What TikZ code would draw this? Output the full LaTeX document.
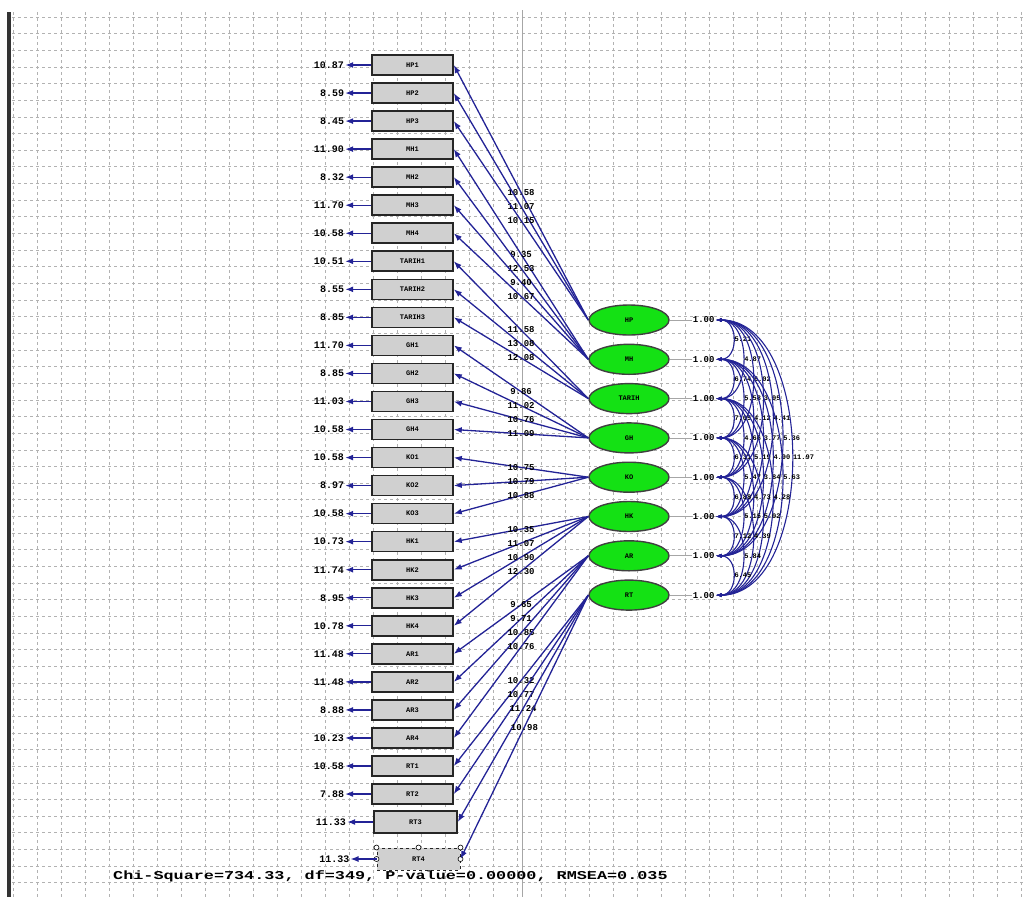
\documentclass[tikz,border=0pt]{standalone}
\usepackage{fontspec}
\setmonofont{Liberation Mono}
\usepackage{graphicx}
\usepackage{tikz}
\usepackage{xcolor}
\usetikzlibrary{positioning,shapes.geometric,arrows.meta}
\definecolor{pathblue}{RGB}{35,35,150}
\definecolor{lvgreen}{RGB}{20,225,20}
\definecolor{boxgray}{RGB}{208,208,208}
\tikzset{
    grid-line/.style = {gray!60, dash pattern=on 3pt off 3pt, line width=0.8pt},
    obs-box/.style = {draw=black!85, fill=boxgray, line width=1.6pt, rectangle, minimum width=81pt, minimum height=20pt, inner sep=0pt, font=\ttfamily\bfseries\fontsize{7}{7}\selectfont},
    lv-oval/.style = {draw=black!75, fill=lvgreen, line width=1.4pt, ellipse, minimum width=80pt, minimum height=30pt, inner sep=0pt, font=\ttfamily\bfseries\fontsize{7}{7}\selectfont},
    err-label/.style = {text=black, font=\ttfamily\bfseries\fontsize{10}{10}\selectfont, inner sep=1pt},
    load-label/.style = {text=black, font=\ttfamily\bfseries\fontsize{9}{9}\selectfont, inner sep=0pt},
    var-label/.style = {text=black, font=\ttfamily\bfseries\fontsize{9}{9}\selectfont, inner sep=1pt},
    corr-label/.style = {text=black, font=\ttfamily\bfseries\fontsize{7}{7}\selectfont, inner sep=0pt},
    path-arrow/.style = {pathblue, line width=1.3pt, -{Latex[length=8pt,width=6pt]}},
    corr-arrow/.style = {pathblue, line width=1.1pt, {Latex[length=6pt,width=4pt]}-{Latex[length=6pt,width=4pt]}},
}

\begin{document}
\begin{tikzpicture}[x=1pt,y=-1pt]
\useasboundingbox (0,0) rectangle (1025,897);
\fill[white] (0,0) rectangle (1025,897);

% background grid
\foreach \k in {0,...,42}
    \draw[grid-line] ({13+24*\k},12) -- ({13+24*\k},897);
\foreach \k in {0,...,52}
    \draw[grid-line] (12,{17+16.65*\k}) -- (1025,{17+16.65*\k});
\draw[gray!70, line width=1pt] (522,10) -- (522,897);
\draw[gray!40!black, line width=4pt] (9,12) -- (9,897);

% observed variables
\foreach \lab [count=\i] in {HP1,HP2,HP3,MH1,MH2,MH3,MH4,TARIH1,TARIH2,TARIH3,GH1,GH2,GH3,GH4,KO1,KO2,KO3,HK1,HK2,HK3,HK4,AR1,AR2,AR3,AR4,RT1,RT2}
    \node[obs-box] (ov\i) at (412.5,{65+28.04*(\i-1)}) {\lab};
\node[obs-box, minimum width=83pt, minimum height=22pt] (ov28) at (415.5,822) {RT3};
\node[obs-box, minimum width=83pt, minimum height=22pt, dashed, line width=1pt] (ov29) at (418.5,859) {RT4};
\foreach \a in {north west,north,north east,east,west}
    \draw[black, fill=white, line width=0.6pt] (ov29.\a) circle (2.5);

% latent variables
\foreach \lab [count=\i] in {HP,MH,TARIH,GH,KO,HK,AR,RT}
    \node[lv-oval] (lv\i) at (629,{320+39.3*(\i-1)}) {\lab};

% error terms
\foreach \v [count=\i] in {10.87,8.59,8.45,11.90,8.32,11.70,10.58,10.51,8.55,8.85,11.70,8.85,11.03,10.58,10.58,8.97,10.58,10.73,11.74,8.95,10.78,11.48,11.48,8.88,10.23,10.58,7.88,11.33,11.33} {
    \node[err-label, left=26pt of ov\i] (er\i) {\v};
    \draw[path-arrow] (ov\i) -- (er\i);
}

% loadings
\foreach \l/\v [count=\i] in {1/10.58,1/11.07,1/10.15,2/9.35,2/12.53,2/9.40,2/10.67,3/11.58,3/13.08,3/12.08,4/9.86,4/11.02,4/10.76,4/11.09,5/10.75,5/10.79,5/10.88,6/10.35,6/11.07,6/10.90,6/12.30,7/9.65,7/9.71,7/10.85,7/10.76,8/10.32,8/10.77,8/11.24,8/10.98}
    \draw[path-arrow] (lv\l.west) -- node[load-label]{\v} (ov\i.east);

% variances
\foreach \i in {1,...,8} {
    \node[var-label, right=22pt of lv\i] (vv\i) {1.00};
    \draw[gray!70, line width=0.8pt] (lv\i) -- (vv\i);
}

% correlations
\foreach \i/\j/\c in {1/2/5.21,1/3/4.87,1/4/6.02,1/5/3.95,1/6/4.41,1/7/5.36,1/8/11.97,2/3/6.74,2/4/5.58,2/5/4.12,2/6/3.77,2/7/4.90,2/8/5.63,3/4/7.05,3/5/4.66,3/6/5.19,3/7/3.84,3/8/4.28,4/5/6.31,4/6/5.47,4/7/4.73,4/8/5.02,5/6/6.88,5/7/5.15,5/8/4.39,6/7/7.12,6/8/5.84,7/8/6.45} {
    \pgfmathsetmacro\bend{13*(\j-\i)+10}
    \draw[corr-arrow] (vv\i.east) .. controls +(\bend,0) and +(\bend,0) .. node[corr-label, pos=0.5, right=1pt]{\c} (vv\j.east);
}

\node[anchor=west, font=\ttfamily\bfseries\fontsize{12}{12}\selectfont, inner sep=0pt] (fit-text) at (113,876) {\scalebox{1.4}[1]{Chi-Square=734.33, df=349, P-value=0.00000, RMSEA=0.035}};
\end{tikzpicture}
\end{document}
